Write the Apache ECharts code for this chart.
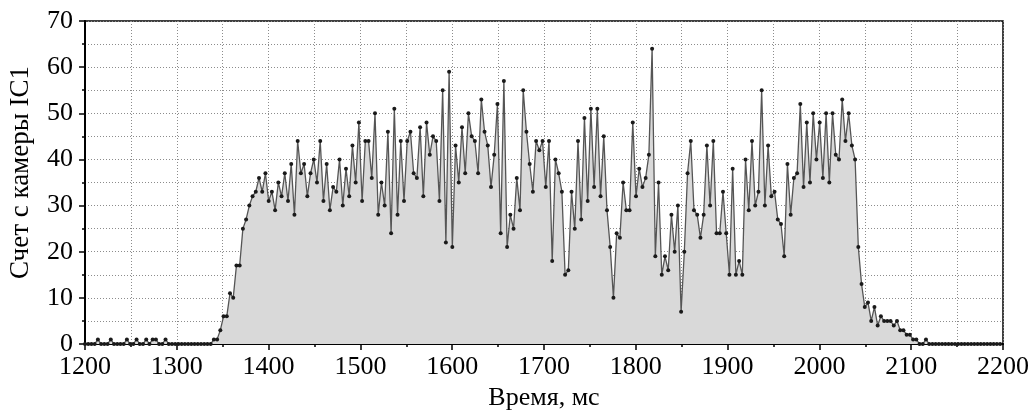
<!DOCTYPE html>
<html>
<head>
<meta charset="utf-8">
<script src="https://cdn.jsdelivr.net/npm/echarts@6/dist/echarts.min.js"></script>
<style>
  html, body { margin: 0; padding: 0; background: #fff; }
  #chart { width: 1030px; height: 412px; }
</style>
</head>
<body>
<div id="chart"></div>
<script>
// time bins start at 1200 ms, one bin every ~3.51 ms
var t0 = 1200;
var dt = 3.51;

// counts per bin
var counts = [
    0, 0, 0, 0, 1, 0, 0, 0, 1, 0, 0, 0, 0, 1, 0, 0, 1, 0, 0, 1,
    0, 1, 1, 0, 0, 1, 0, 0, 0, 0, 0, 0, 0, 0, 0, 0, 0, 0, 0, 0,
    1, 1, 3, 6, 6, 11, 10, 17, 17, 25, 27, 30, 32, 33, 36, 33, 37, 31, 33, 29,
    35, 32, 37, 31, 39, 28, 44, 37, 39, 32, 37, 40, 35, 44, 31, 39, 29, 34, 33, 40,
    30, 38, 32, 43, 35, 48, 31, 44, 44, 36, 50, 28, 35, 30, 46, 24, 51, 28, 44, 31,
    44, 46, 37, 36, 47, 32, 48, 41, 45, 44, 31, 55, 22, 59, 21, 43, 35, 47, 37, 50,
    45, 44, 37, 53, 46, 43, 34, 41, 52, 24, 57, 21, 28, 25, 36, 29, 55, 46, 39, 33,
    44, 42, 44, 34, 44, 18, 40, 37, 33, 15, 16, 33, 25, 44, 27, 49, 31, 51, 34, 51,
    32, 45, 29, 21, 10, 24, 23, 35, 29, 29, 48, 32, 38, 34, 36, 41, 64, 19, 35, 15,
    19, 16, 28, 20, 30, 7, 20, 37, 44, 29, 28, 23, 28, 43, 30, 44, 24, 24, 33, 24,
    15, 38, 15, 18, 15, 40, 29, 44, 30, 33, 55, 30, 43, 32, 33, 27, 26, 19, 39, 28,
    36, 37, 52, 34, 48, 35, 50, 40, 48, 36, 50, 35, 50, 41, 40, 53, 44, 50, 43, 40,
    21, 13, 8, 9, 5, 8, 4, 6, 5, 5, 5, 4, 5, 3, 3, 2, 2, 1, 1, 0,
    0, 1, 0, 0, 0, 0, 0, 0, 0, 0, 0, 0, 0, 0, 0, 0, 0, 0, 0, 0,
    0, 0, 0, 0, 0
];

var xName = 'Время, мс';
var yName = 'Счет с камеры IC1';

var points = [];
for (var i = 0; i < counts.length; i++) {
    points.push([t0 + i * dt, counts[i]]);
}

var font = 'Liberation Serif';
var dotted = { color: '#8c8c8c', width: 1, type: [1, 2] };

var chart = echarts.init(document.getElementById('chart'));
var option = {
    animation: false,
    grid: {
        left: 85, right: 27, top: 21, bottom: 68,
        outerBoundsMode: 'none',
        show: true, borderColor: '#000', borderWidth: 1.5
    },
    xAxis: {
        type: 'value',
        min: 1200, max: 2200, interval: 100,
        name: xName,
        nameLocation: 'middle',
        nameGap: 41,
        nameTextStyle: { fontFamily: font, fontSize: 26, color: '#000' },
        axisLine: { onZero: false, lineStyle: { color: '#000', width: 2 } },
        axisTick: { length: 6, lineStyle: { color: '#000', width: 1.5 } },
        minorTick: { show: true, splitNumber: 2, length: 3, lineStyle: { color: '#000', width: 1.5 } },
        axisLabel: {
            fontFamily: font, fontSize: 26, color: '#000', margin: 10,
            formatter: function (v) { return String(v); }
        },
        splitLine: { show: true, lineStyle: dotted },
        minorSplitLine: { show: true, lineStyle: dotted }
    },
    yAxis: {
        type: 'value',
        min: 0, max: 70, interval: 10,
        name: yName,
        nameLocation: 'middle',
        nameGap: 51,
        nameTextStyle: { fontFamily: font, fontSize: 27, color: '#000', padding: [0, 0, 0, 20] },
        axisLine: { show: true, lineStyle: { color: '#000', width: 2 } },
        axisTick: { show: true, length: 6, lineStyle: { color: '#000', width: 1.5 } },
        minorTick: { show: true, splitNumber: 2, length: 3, lineStyle: { color: '#000', width: 1.5 } },
        axisLabel: { fontFamily: font, fontSize: 26, color: '#000', margin: 12 },
        splitLine: { show: true, lineStyle: dotted },
        minorSplitLine: { show: true, lineStyle: dotted }
    },
    series: [{
        type: 'line',
        data: points,
        showSymbol: true,
        showAllSymbol: true,
        symbol: 'circle',
        symbolSize: 4,
        itemStyle: { color: '#1a1a1a' },
        lineStyle: { color: '#555', width: 1.3 },
        areaStyle: { color: '#d9d9d9', opacity: 1 }
    }]
};
chart.setOption(option);
</script>
</body>
</html>
